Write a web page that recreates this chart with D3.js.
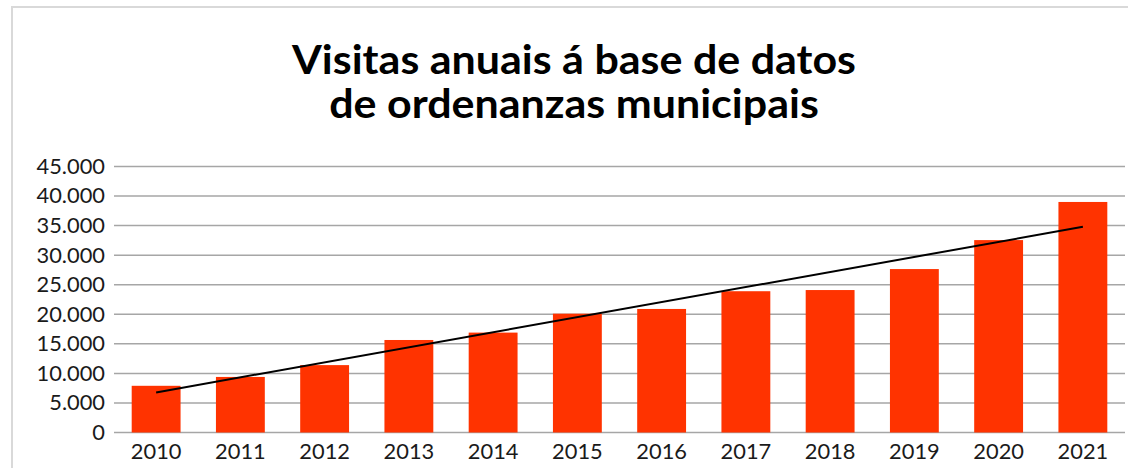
<!DOCTYPE html>
<html>
<head>
<meta charset="utf-8">
<script src="https://cdn.jsdelivr.net/npm/d3@7"></script>
<style>
  body { margin: 0; background: #fff; }
  svg { display: block; }
</style>
</head>
<body>
<svg id="chart" width="1128" height="468"></svg>
<script>
const years = ["2010", "2011", "2012", "2013", "2014", "2015", "2016", "2017", "2018", "2019", "2020", "2021"];
const visits = [7900, 9400, 11400, 15650, 16900, 20100, 20900, 23900, 24100, 27650, 32550, 39000];
const yTicks = [0, 5000, 10000, 15000, 20000, 25000, 30000, 35000, 40000, 45000];
const titleLines = ["Visitas anuais á base de datos", "de ordenanzas municipais"];

const svg = d3.select("#chart");
const font = "Lato, 'Open Sans', sans-serif";
const stretch = 1.04; // labels in the original are a bit wider than Lato

// chart frame
svg.append("rect")
  .attr("x", 12).attr("y", 7)
  .attr("width", 1140).attr("height", 480)
  .attr("fill", "none")
  .attr("stroke", "#d9d9d9")
  .attr("stroke-width", 2);

// title
svg.append("g")
  .selectAll("text")
  .data(titleLines)
  .enter()
  .append("text")
  .attr("transform", (d, i) => `translate(574,${74 + i * 44}) scale(1.075,1)`)
  .attr("text-anchor", "middle")
  .style("font-family", font)
  .style("font-weight", "bold")
  .style("font-size", "40px")
  .text(d => d);

const x = d3.scaleBand()
  .domain(years)
  .range([114, 1125])
  .paddingInner(0.42)
  .paddingOuter(0.21);

const y = d3.scaleLinear()
  .domain([0, 45000])
  .range([432.5, 166.5]);

const fmt = d3.formatLocale({ decimal: ",", thousands: ".", grouping: [3], currency: ["", "€"] }).format(",d");

// gridlines
svg.append("g")
  .selectAll("line")
  .data(yTicks)
  .enter()
  .append("line")
  .attr("x1", 114).attr("x2", 1125)
  .attr("y1", d => y(d)).attr("y2", d => y(d))
  .attr("stroke", "#a6a6a6")
  .attr("stroke-width", 1.5);

// y labels
svg.append("g")
  .selectAll("text")
  .data(yTicks)
  .enter()
  .append("text")
  .attr("transform", d => `translate(105,${y(d)}) scale(${stretch},1)`)
  .attr("dy", "0.35em")
  .attr("text-anchor", "end")
  .style("font-family", font)
  .style("font-size", "21px")
  .attr("fill", "#1a1a1a")
  .text(d => fmt(d));

// bars
svg.append("g")
  .selectAll("rect")
  .data(visits)
  .enter()
  .append("rect")
  .attr("x", (d, i) => x(years[i]))
  .attr("y", d => y(d))
  .attr("width", x.bandwidth())
  .attr("height", d => y(0) - y(d))
  .attr("fill", "#ff3300");

// x labels
svg.append("g")
  .selectAll("text")
  .data(years)
  .enter()
  .append("text")
  .attr("transform", d => `translate(${x(d) + x.bandwidth() / 2},458.5) scale(${stretch},1)`)
  .attr("text-anchor", "middle")
  .style("font-family", font)
  .style("font-size", "21px")
  .attr("fill", "#1a1a1a")
  .text(d => d);

// linear trendline (least squares)
const n = visits.length;
const mx = d3.mean(visits, (d, i) => i);
const my = d3.mean(visits);
const sxy = d3.sum(visits, (d, i) => (i - mx) * (d - my));
const sxx = d3.sum(visits, (d, i) => (i - mx) * (i - mx));
const slope = sxy / sxx;
const icpt = my - slope * mx;
const trend = [0, n - 1].map(i => [x(years[i]) + x.bandwidth() / 2, y(icpt + slope * i)]);

svg.append("path")
  .attr("d", d3.line()(trend))
  .attr("fill", "none")
  .attr("stroke", "#000")
  .attr("stroke-width", 2);
</script>
</body>
</html>
